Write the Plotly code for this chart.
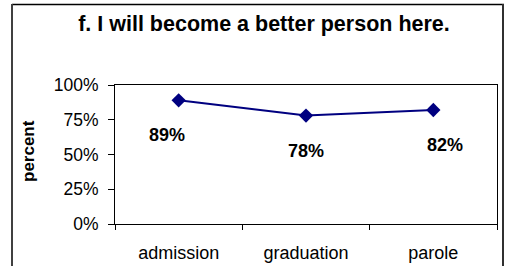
import plotly.graph_objects as go

categories = ["admission", "graduation", "parole"]
values = [0.89, 0.78, 0.82]
labels = ["89%", "78%", "82%"]
label_dx = [-12, 0, 12]

W, H = 508, 266
L, R, T, B = 115, 11, 85, 42
pw, ph = W - L - R, H - T - B

def px(x):
    return (x - L) / pw

def py(y):
    return (H - B - y) / ph

FONT = "Liberation Sans, Arial"

fig = go.Figure()
fig.add_trace(go.Scatter(
    x=categories, y=values, mode="lines+markers",
    line=dict(color="#000080", width=2),
    marker=dict(symbol="diamond", size=11, color="#000080"),
    hoverinfo="skip", showlegend=False,
))

for c, v, t, dx in zip(categories, values, labels, label_dx):
    fig.add_annotation(x=c, y=v, text="<b>%s</b>" % t, showarrow=False,
                       xshift=dx, yshift=-35,
                       font=dict(family=FONT, size=18, color="black"))

fig.add_annotation(xref="paper", yref="paper", x=px(28), y=py(151),
                   xanchor="center", yanchor="middle",
                   text="<b>percent</b>", textangle=-90, showarrow=False,
                   font=dict(family=FONT, size=17, color="black"))

# outer chart border
fig.add_shape(type="line", xref="paper", yref="paper",
              x0=px(12), x1=px(504), y0=py(4.5), y1=py(4.5),
              line=dict(color="black", width=1.5))
fig.add_shape(type="line", xref="paper", yref="paper",
              x0=px(12), x1=px(12), y0=py(4), y1=py(270),
              line=dict(color="#404040", width=2))
fig.add_shape(type="line", xref="paper", yref="paper",
              x0=px(503), x1=px(503), y0=py(4), y1=py(270),
              line=dict(color="#303030", width=2))

fig.update_layout(
    width=W, height=H,
    margin=dict(l=L, r=R, t=T, b=B, autoexpand=False),
    paper_bgcolor="white", plot_bgcolor="white",
    font=dict(family=FONT, color="black"),
    title=dict(text="<b>f. I will become a better person here.</b>",
               x=264 / W, xanchor="center",
               y=1 - 23 / H, yanchor="middle",
               font=dict(size=21.5, color="black")),
    xaxis=dict(type="category", showline=True, linecolor="black", linewidth=1,
               mirror=True, ticks="outside", tickson="boundaries", ticklen=5,
               tickcolor="black", showgrid=False, tickfont=dict(size=18),
               ticklabelstandoff=12, range=[-0.5, 2.5]),
    yaxis=dict(range=[0, 1], tickvals=[0, 0.25, 0.5, 0.75, 1.0],
               tickformat=".0%", showline=True, linecolor="black", linewidth=1,
               mirror=True, ticks="outside", ticklen=6, tickcolor="black",
               showgrid=False, zeroline=False, tickfont=dict(size=17.5),
               ticklabelstandoff=6),
)

fig.write_html("out.html", config={"displayModeBar": False},
               post_script="document.body.style.margin='0';document.body.style.overflow='hidden';")
